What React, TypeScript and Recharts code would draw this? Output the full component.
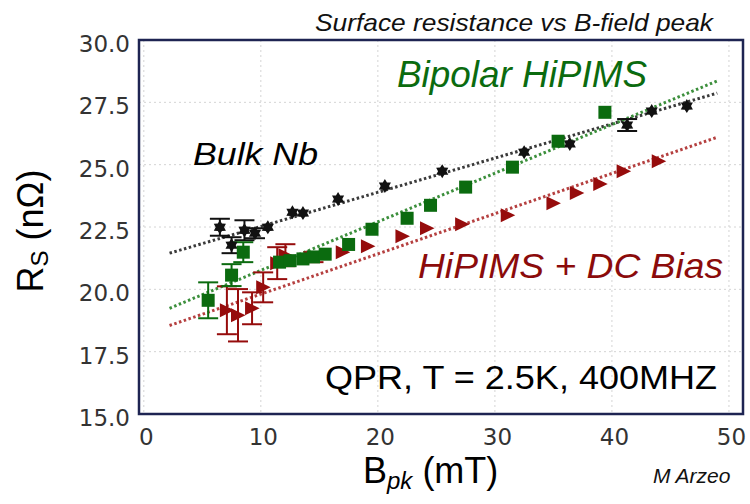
import {
  CartesianGrid,
  ComposedChart,
  ErrorBar,
  Line,
  ReferenceArea,
  Scatter,
  XAxis,
  YAxis,
} from "recharts";

// B-field peak (mT) and surface resistance (nOhm) for each sample
const bulkNbField = [6.5, 7.5, 8.6, 9.5, 10.6, 12.7, 13.6, 16.6, 20.6, 25.5, 32.5, 36.4, 41.3, 43.4, 46.4];
const bulkNbRs = [22.49, 21.77, 22.37, 22.25, 22.49, 23.09, 23.06, 23.62, 24.14, 24.74, 25.5, 25.83, 26.59, 27.15, 27.35];
const bulkNbErr = [0.34, 0.32, 0.4, 0.2, null, null, null, null, null, null, null, null, 0.24, null, null];

const bipolarField = [5.5, 7.5, 8.5, 11.6, 12.5, 13.6, 14.5, 15.5, 17.5, 19.5, 22.5, 24.5, 27.5, 31.5, 35.4, 39.4];
const bipolarRs = [19.56, 20.57, 21.49, 21.09, 21.15, 21.22, 21.3, 21.41, 21.8, 22.41, 22.85, 23.37, 24.1, 24.9, 25.94, 27.1];
const bipolarErr = [0.72, 0.44, 0.4, null, null, null, null, null, null, null, null, null, null, null, null, null];

const dcBiasField = [7.1, 8.05, 9.25, 10.2, 11.4, 12.1, 14.5, 17.0, 19.15, 22.1, 24.2, 27.2, 31.1, 35.0, 37.0, 39.0, 41.0, 44.0];
const dcBiasRs = [19.16, 18.96, 19.24, 20.08, 21.05, 21.37, 21.29, 21.49, 21.73, 22.13, 22.45, 22.61, 22.97, 23.45, 23.86, 24.22, 24.74, 25.14];
const dcBiasErr = [0.96, 1.05, 0.64, 0.6, 0.64, 0.44, 0.2, null, null, null, null, null, null, null, null, null, null, null];

// linear fits (start / end)
const fitField = [2.2, 49];
const bulkNbFit = [21.45, 27.87];
const bipolarFit = [19.24, 28.36];
const dcBiasFit = [18.55, 26.1];

const xTicks = [0, 10, 20, 30, 40, 50];
const yTicks = [15, 17.5, 20, 22.5, 25, 27.5, 30];

const toRows = (xs: number[], ys: number[], errs?: (number | null)[]) =>
  xs.map((x, i) => ({ x, y: ys[i], err: errs ? errs[i] : null }));

const bulkNbData = toRows(bulkNbField, bulkNbRs, bulkNbErr);
const bipolarData = toRows(bipolarField, bipolarRs, bipolarErr);
const dcBiasData = toRows(dcBiasField, dcBiasRs, dcBiasErr);

const BLACK = "#111111";
const GREEN = "#0b6b0f";
const RED = "#960c0c";
const FRAME = "#1e2452";
const SANS = "'Liberation Sans', Arial, sans-serif";
const TICK_FONT = "'DejaVu Sans', sans-serif";

const StarMark = (props: any) => {
  const { cx, cy } = props;
  const pts: string[] = [];
  for (let i = 0; i < 12; i++) {
    const r = i % 2 === 0 ? 7 : 4.2;
    const a = (Math.PI / 6) * i - Math.PI / 2;
    pts.push(`${cx + r * Math.cos(a)},${cy + r * Math.sin(a)}`);
  }
  return <polygon points={pts.join(" ")} fill={BLACK} />;
};

const SquareMark = (props: any) => {
  const { cx, cy } = props;
  return <rect x={cx - 6.5} y={cy - 6.5} width={13} height={13} fill={GREEN} />;
};

const TriangleMark = (props: any) => {
  const { cx, cy } = props;
  return (
    <polygon
      points={`${cx - 7},${cy - 7} ${cx + 7.5},${cy} ${cx - 7},${cy + 7}`}
      fill={RED}
    />
  );
};

const YTick = (props: any) => {
  const { x, y, payload } = props;
  return (
    <text x={x - 9} y={y + 12} textAnchor="end" fontSize={23} fill="#333" style={{ fontFamily: TICK_FONT }}>
      {payload.value.toFixed(1)}
    </text>
  );
};

const XTick = (props: any) => {
  const { x, y, payload } = props;
  return (
    <text x={x + 2.5} y={y + 31} textAnchor="middle" fontSize={23} fill="#333" style={{ fontFamily: TICK_FONT }}>
      {payload.value}
    </text>
  );
};

export default function App() {
  return (
    <div style={{ position: "absolute", left: 0, top: 0, width: 750, height: 504, background: "#fff" }}>
      <ComposedChart width={750} height={504} margin={{ top: 40, right: 7, left: 0, bottom: 0 }}>
        <CartesianGrid stroke="#d4d4d4" strokeDasharray="2 3" />
        <XAxis
          type="number"
          dataKey="x"
          domain={[-0.41, 51.2]}
          ticks={xTicks}
          allowDataOverflow
          height={90}
          tickSize={0}
          tickMargin={0}
          axisLine={false}
          tick={<XTick />}
        />
        <YAxis
          type="number"
          dataKey="y"
          domain={[15, 30]}
          ticks={yTicks}
          allowDataOverflow
          width={139}
          tickSize={0}
          tickMargin={0}
          axisLine={false}
          tick={<YTick />}
        />
        <Line
          data={fitField.map((x, i) => ({ x, y: bulkNbFit[i] }))}
          dataKey="y"
          type="linear"
          dot={false}
          stroke="#3a3a3a"
          strokeWidth={3}
          strokeDasharray="2.5 2.5"
          isAnimationActive={false}
        />
        <Line
          data={fitField.map((x, i) => ({ x, y: bipolarFit[i] }))}
          dataKey="y"
          type="linear"
          dot={false}
          stroke="#3c8f3c"
          strokeWidth={3}
          strokeDasharray="2.5 2.5"
          isAnimationActive={false}
        />
        <Line
          data={fitField.map((x, i) => ({ x, y: dcBiasFit[i] }))}
          dataKey="y"
          type="linear"
          dot={false}
          stroke="#b54040"
          strokeWidth={3}
          strokeDasharray="2.5 2.5"
          isAnimationActive={false}
        />
        <Scatter data={bulkNbData} dataKey="y" shape={<StarMark />} isAnimationActive={false}>
          <ErrorBar dataKey="err" direction="y" width={10} stroke={BLACK} strokeWidth={2} />
        </Scatter>
        <Scatter data={dcBiasData} dataKey="y" shape={<TriangleMark />} isAnimationActive={false}>
          <ErrorBar dataKey="err" direction="y" width={10} stroke={RED} strokeWidth={2} />
        </Scatter>
        <Scatter data={bipolarData} dataKey="y" shape={<SquareMark />} isAnimationActive={false}>
          <ErrorBar dataKey="err" direction="y" width={10} stroke={GREEN} strokeWidth={2} />
        </Scatter>
        <ReferenceArea
          x1={-0.41}
          x2={51.2}
          y1={15}
          y2={30}
          fill="none"
          stroke={FRAME}
          strokeWidth={2.5}
          ifOverflow="visible"
        />
      </ComposedChart>
      <svg
        width={750}
        height={504}
        style={{ position: "absolute", left: 0, top: 0, pointerEvents: "none", fontFamily: SANS }}
      >
        <text x={315} y={31} fontSize={24} fontStyle="italic" fill="#111" textLength={398} lengthAdjust="spacingAndGlyphs">
          Surface resistance vs B-field peak
        </text>
        <text x={397} y={87} fontSize={36} fontStyle="italic" fill={GREEN} textLength={250} lengthAdjust="spacingAndGlyphs">
          Bipolar HiPIMS
        </text>
        <text x={193} y={165} fontSize={32} fontStyle="italic" fill="#000" textLength={125} lengthAdjust="spacingAndGlyphs">
          Bulk Nb
        </text>
        <text x={418} y={278} fontSize={35} fontStyle="italic" fill="#8b0b0b" textLength={305} lengthAdjust="spacingAndGlyphs">
          HiPIMS + DC Bias
        </text>
        <text x={325} y={389} fontSize={34} fill="#000" textLength={392} lengthAdjust="spacingAndGlyphs">
          QPR, T = 2.5K, 400MHZ
        </text>
        <text x={653} y={483} fontSize={21} fontStyle="italic" fill="#111">
          M Arzeo
        </text>
        <text x={363} y={483} fontSize={36} fill="#000">
          B
          <tspan fontSize={24} fontStyle="italic" dy={6}>pk</tspan>
          <tspan dy={-6}> (mT)</tspan>
        </text>
        <text transform="translate(43, 231) rotate(-90)" textAnchor="middle" fontSize={36} fill="#000">
          R
          <tspan fontSize={24} dy={5}>S</tspan>
          <tspan dy={-5}> (nΩ)</tspan>
        </text>
      </svg>
    </div>
  );
}
